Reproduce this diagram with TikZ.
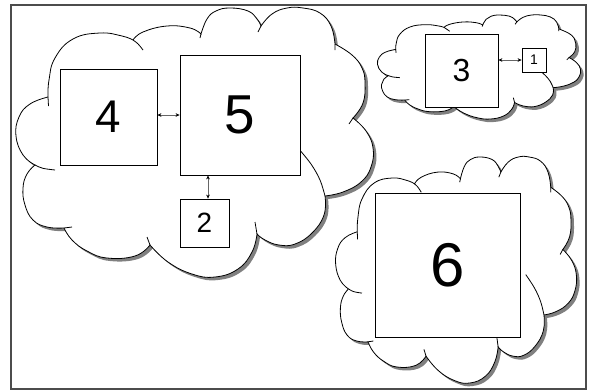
\documentclass[tikz,border=0pt]{standalone}
\usepackage{fontspec}
\setmainfont{Liberation Sans}
\usetikzlibrary{arrows.meta}
\newcommand\cloudoutline{%
 plot[smooth,tension=0.75] coordinates {(48,97) (49,80) (55,58) (73,39) (100,33) (122,36) (133,40)}
 -- plot[smooth,tension=0.75] coordinates {(133,40) (143,32) (167,26) (190,28) (201,34)}
 -- plot[smooth,tension=0.75] coordinates {(201,34) (207,19) (216,11) (230,8) (248,11) (257,19) (261,26)}
 -- plot[smooth,tension=0.75] coordinates {(261,26) (272,14) (287,8) (303,8) (320,13) (331,26) (335,44)}
 -- plot[smooth,tension=0.75] coordinates {(335,44) (352,55) (362,68) (365,83) (363,103) (353,118)}
 -- plot[smooth,tension=0.75] coordinates {(353,118) (366,131) (373,148) (371,167) (361,182) (343,192) (325,196)}
 -- plot[smooth,tension=0.75] coordinates {(325,196) (324,215) (312,233) (295,244) (279,245) (265,240) (257,234)}
 -- plot[smooth,tension=0.75] coordinates {(257,234) (252,252) (238,269) (215,277) (192,274) (168,262) (150,245)}
 -- plot[smooth,tension=0.75] coordinates {(150,245) (135,256) (107,258) (87,251) (72,240) (64,228)}
 -- plot[smooth,tension=0.75] coordinates {(64,228) (47,227) (33,220) (25,205) (23,188) (27,174) (35,165)}
 -- plot[smooth,tension=0.75] coordinates {(35,165) (23,155) (16,136) (19,117) (30,104) (48,97)}
 -- cycle}
\newcommand\cloudtails{%
 (48,97) -- (48.5,106)
 (35,165) .. controls (42,168.5) .. (55,170)
 (64,228) -- (72,227)
 (150,245) -- (147,237)
 (257,234) -- (255,222)
 plot[smooth,tension=0.6] coordinates {(325,196) (320,180) (311,164) (298,148)}
 (353,118) -- (349,124)
 (335,44) -- (335,50)
 (261,26) -- (258,32)
 (201,34) -- (200,38)
 (133,40) .. controls (138,43.5) .. (143,50)}
\newcommand\drawcloud[4]{%
 \begin{scope}[shift={(3,3)}]
  \begin{scope}[shift={({#1-15*#3/359},{#2-8*#4/269})}, xscale={#3/359}, yscale={#4/269}]
   \fill[cloudshadow] \cloudoutline;
  \end{scope}
 \end{scope}
 \begin{scope}[shift={({#1-15*#3/359},{#2-8*#4/269})}, xscale={#3/359}, yscale={#4/269}]
  \fill[white] \cloudoutline;
  \draw[cloudline] \cloudoutline;
  \draw[cloudline] \cloudtails;
 \end{scope}}
\begin{document}
\begin{tikzpicture}[x=1bp,y=-1bp,
  cloudshadow/.style={fill=black!50},
  cloudline/.style={draw=black, line width=0.8bp, line join=miter},
  boxnode/.style={draw=black, fill=white, line width=0.8bp, inner sep=0pt},
  link/.style={draw=black!60, line width=0.6bp, {Stealth[length=4bp,width=3.6bp,black]}-{Stealth[length=4bp,width=3.6bp,black]}}
]
\useasboundingbox (0,0) rectangle (590,390);
\draw[draw=black!70, line width=1.4bp] (11,5) rectangle (586,389);
% clouds
\drawcloud{15}{8}{359}{269}
\drawcloud{377}{15}{204}{104}
\drawcloud{335}{157}{242}{226}
% boxes
\node[boxnode, minimum width=97bp, minimum height=96bp, font=\fontsize{46}{46}\selectfont] (b4) at (108.5,117) {4};
\node[boxnode, minimum width=120bp, minimum height=120bp, font=\fontsize{55}{55}\selectfont] (b5) at (240,115) {5};
\node[boxnode, minimum width=49bp, minimum height=48bp, font=\fontsize{28}{28}\selectfont] (b2) at (204.5,223) {2};
\node[boxnode, minimum width=73bp, minimum height=73bp, font=\fontsize{32}{32}\selectfont] (b3) at (461.5,70.5) {3};
\node[boxnode, minimum width=24bp, minimum height=24bp, font=\fontsize{14}{14}\selectfont] (b1) at (534,60) {1};
\node[boxnode, minimum width=145bp, minimum height=144bp, font=\fontsize{62}{62}\selectfont] (b6) at (447.5,265) {6};
% links
\coordinate (p52) at (208,187);
\draw[link] (b4.east |- b5.west) -- (b5.west);
\draw[link] (b5.south -| p52) -- (b2.north -| p52);
\draw[link] (b3.east |- b1.west) -- (b1.west);
\end{tikzpicture}
\end{document}
